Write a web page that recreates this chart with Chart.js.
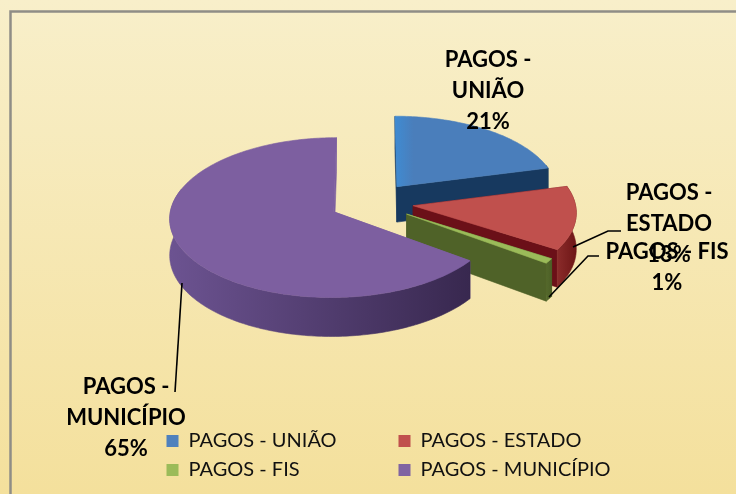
<!DOCTYPE html>
<html>
<head>
<meta charset="utf-8">
<style>html,body{margin:0;padding:0;background:#f6e8b4}canvas{display:block}</style>
<script src="https://cdn.jsdelivr.net/npm/chart.js@4"></script>
</head>
<body>
<canvas id="c" width="736" height="494"></canvas>
<script>
const categories = ['PAGOS - UNIÃO', 'PAGOS - ESTADO', 'PAGOS - FIS', 'PAGOS - MUNICÍPIO'];
const values = [21, 13, 1, 65];
const labelLines = [['PAGOS -', 'UNIÃO'], ['PAGOS -', 'ESTADO'], ['PAGOS - FIS'], ['PAGOS -', 'MUNICÍPIO']];

const topColors = ['#4a7ebb', '#c0504d', '#9bbb59', '#7d5fa0'];
const legendColors = ['#4f81bd', '#c0504d', '#9bbb59', '#8064a2'];
const wallColors = [['#1c4468', '#173a5e'], ['#8a2b2a', '#6e1616'], ['#55692c', '#4c5f26'], ['#6c5391', '#38284f']];
const endWallColors = ['#17395f', '#6b1018', '#4f6228', '#7d5fa0'];
const labelCenters = [[488, 60], [669, 193], [667, 252], [126, 387]];
const leaders = [null, [[573, 247], [608, 231], [621, 231]], [[549, 297], [588, 256], [599, 256]], [[182, 283], [175, 392]]];
const legendOrder = [0, 2, 1, 3];

const TILT = 0.485, PERSPECTIVE = 0.0734, DEPTH = 36, LINE_PITCH = 31;

function project(el, X, Y) {
  const s = 1 + PERSPECTIVE * Y / el.outerRadius;
  return [el.x + X * s, el.y + Y * TILT * s, s];
}
function slicePoints(el) {
  const d = (el.options.offset || 0) / 4;
  const mid = (el.startAngle + el.endAngle) / 2;
  const ox = Math.cos(mid) * d, oy = Math.sin(mid) * d;
  const apex = project(el, ox, oy);
  const rim = [], front = [];
  const n = Math.max(3, Math.ceil((el.endAngle - el.startAngle) / 0.02));
  for (let i = 0; i <= n; i++) {
    const a = el.startAngle + (el.endAngle - el.startAngle) * i / n;
    const p = project(el, ox + Math.cos(a) * el.outerRadius, oy + Math.sin(a) * el.outerRadius);
    rim.push(p);
    if (Math.sin(a) > -0.3) front.push(p);
  }
  return { apex, rim, front };
}
function poly(ctx, pts, fill) {
  ctx.beginPath();
  pts.forEach((p, i) => i ? ctx.lineTo(p[0], p[1]) : ctx.moveTo(p[0], p[1]));
  ctx.closePath();
  ctx.fillStyle = fill;
  ctx.fill();
  ctx.strokeStyle = fill;
  ctx.lineWidth = 0.6;
  ctx.stroke();
}
const down = p => [p[0], p[1] + DEPTH * p[2], p[2]];

const pie3d = {
  id: 'pie3d',
  beforeDraw(chart) {
    const { ctx, width, height } = chart;
    const g = ctx.createLinearGradient(0, 0, 0, height);
    g.addColorStop(0, '#f8efca');
    g.addColorStop(1, '#f4e09c');
    ctx.fillStyle = g;
    ctx.fillRect(0, 0, width, height);
    ctx.strokeStyle = '#8f8d86';
    ctx.lineWidth = 2.5;
    ctx.beginPath();
    ctx.moveTo(10.5, height);
    ctx.lineTo(10.5, 11.5);
    ctx.lineTo(width, 11.5);
    ctx.stroke();
  },
  beforeDatasetsDraw(chart) {
    const { ctx } = chart;
    const arcs = chart.getDatasetMeta(0).data;
    arcs.forEach((el, i) => {
      const { apex, rim, front } = slicePoints(el);
      const first = rim[0], last = rim[rim.length - 1];
      ctx.save();
      ctx.filter = 'blur(0.6px)';
      poly(ctx, [apex, first, down(first), down(apex)], endWallColors[i]);
      poly(ctx, [apex, last, down(last), down(apex)], endWallColors[i]);
      const xs = rim.map(p => p[0]);
      const wg = ctx.createLinearGradient(Math.min(...xs), 0, Math.max(...xs), 0);
      wg.addColorStop(0, wallColors[i][0]);
      wg.addColorStop(1, wallColors[i][1]);
      if (front.length) poly(ctx, front.concat(front.map(down).reverse()), wg);
      const tg = ctx.createLinearGradient(Math.min(...xs), 0, Math.max(...xs), 0);
      if (i === 0) { tg.addColorStop(0, '#3f8bd2'); tg.addColorStop(0.12, topColors[0]); }
      else { tg.addColorStop(0, topColors[i]); }
      tg.addColorStop(1, topColors[i]);
      poly(ctx, [apex].concat(rim), tg);
      ctx.restore();
    });
    return false;
  },
  afterLayout(chart) {
    const lg = chart.legend;
    lg.left = 157.5; lg.right = 640;
    lg.top = 422; lg.bottom = 431 + 2 * 29;
    lg.width = lg.right - lg.left; lg.height = lg.bottom - lg.top;
    lg.columnSizes = [{ width: 223, height: 58 }, { width: 223, height: 58 }];
  },
  afterDraw(chart) {
    const { ctx } = chart;
    ctx.save();
    ctx.strokeStyle = '#000';
    ctx.lineWidth = 1.6;
    leaders.forEach(l => {
      if (!l) return;
      ctx.beginPath();
      l.forEach((p, i) => i ? ctx.lineTo(p[0], p[1]) : ctx.moveTo(p[0], p[1]));
      ctx.stroke();
    });
    ctx.fillStyle = '#000';
    ctx.font = 'bold 22px Lato';
    ctx.textAlign = 'center';
    ctx.textBaseline = 'middle';
    categories.forEach((_, i) => {
      const lines = labelLines[i].concat([values[i] + '%']);
      const c = labelCenters[i];
      lines.forEach((t, j) => ctx.fillText(t, c[0], c[1] + j * LINE_PITCH));
    });
    ctx.restore();
  }
};

new Chart(document.getElementById('c'), {
  type: 'pie',
  data: {
    labels: categories,
    datasets: [{
      data: values,
      backgroundColor: legendColors,
      borderWidth: 0,
      offset: 168
    }]
  },
  options: {
    responsive: false,
    animation: false,
    radius: 162,
    layout: { padding: { left: 7, bottom: 89 } },
    plugins: {
      tooltip: { enabled: false },
      legend: {
        position: 'chartArea',
        align: 'start',
        labels: {
          boxWidth: 12,
          boxHeight: 12,
          padding: 9,
          color: '#111',
          font: { family: 'Lato', size: 20 },
          sort: (a, b) => legendOrder.indexOf(a.index) - legendOrder.indexOf(b.index)
        }
      }
    }
  },
  plugins: [pie3d]
});
</script>
</body>
</html>
